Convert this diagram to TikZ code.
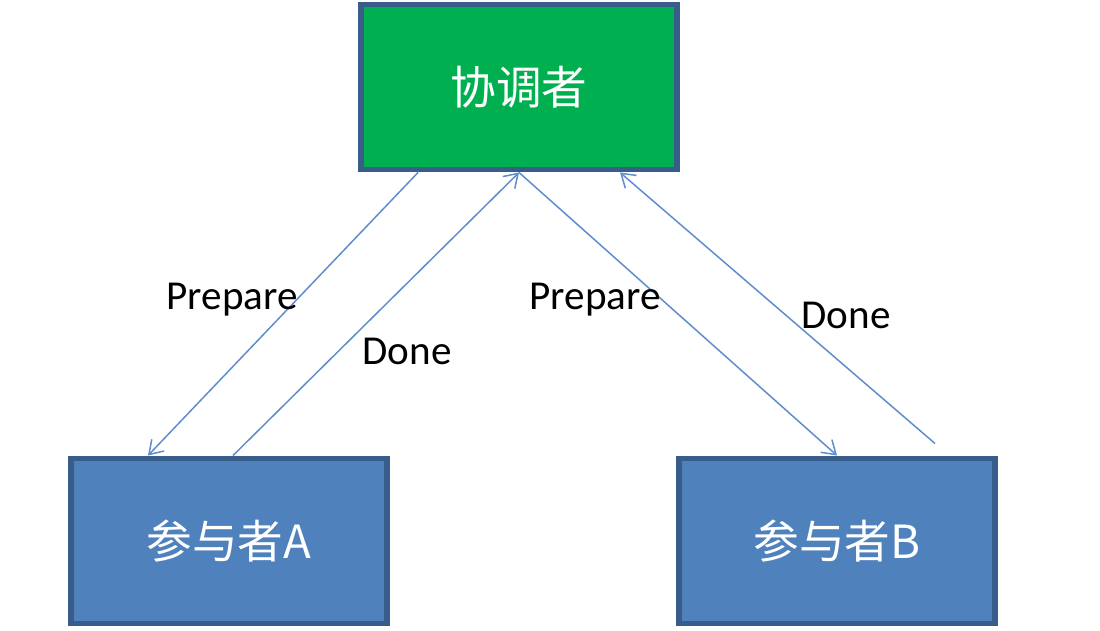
\documentclass[tikz,border=0pt]{standalone}
\usepackage{fontspec}
\setmainfont{Carlito}
\newfontfamily\cjk{Noto Sans CJK SC}
\usepackage{tikz}
\usetikzlibrary{arrows.meta,positioning,calc}
\definecolor{bordC}{HTML}{385D8A}
\definecolor{coordC}{HTML}{00B050}
\definecolor{partC}{HTML}{4F81BD}
\definecolor{lienC}{HTML}{5F8DCB}
\tikzset{
  rolebox/.style={rectangle, draw=bordC, line width=3.4pt, fill=#1, text=white,
                  align=center, font=\cjk\fontsize{26}{30}\selectfont,
                  minimum width=6.32cm, minimum height=3.3cm, inner sep=0pt},
  lbl/.style={font=\fontsize{23.4}{27}\selectfont, inner sep=0pt},
  arr/.style={-{Straight Barb[length=2.6mm,width=3.4mm]}, line width=0.85pt, draw=lienC},
}
\begin{document}
\begin{tikzpicture}
    \useasboundingbox (0,0) rectangle (22,-12.62);
    \node[rolebox=coordC] (coord) at (10.38,-1.74) {协调者};
    \node[rolebox=partC] (partA) at (4.58,-10.82) {参与者A};
    \node[rolebox=partC] (partB) at (16.74,-10.82) {参与者B};
    \coordinate (doneB) at ($(partB.north west)+(5.18,0.24)$);
    \draw[arr] ($(coord.south west)+(1.2,0)$) -- ($(partA.north west)+(1.6,0)$);
    \draw[arr] ($(partA.north west)+(3.3,0)$) -- (coord.south);
    \draw[arr] (coord.south) -- (partB.north);
    \draw[arr] (doneB) -- ($(coord.south west)+(5.24,0)$);
    \node[lbl] (prepA) at (4.64,-6.0) {Prepare};
    \node[lbl] (doneAl) at (8.14,-7.02) {Done};
    \node[lbl] (prepB) at (11.9,-6.0) {Prepare};
    \node[lbl] (doneBl) at (16.92,-6.3) {Done};
  \end{tikzpicture}
\end{document}
